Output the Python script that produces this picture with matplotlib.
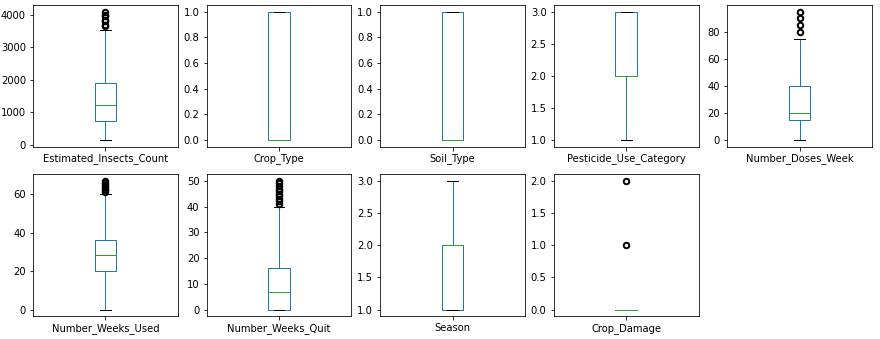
"""Box plots of the crop dataset columns, 2x5 grid"""

import matplotlib

matplotlib.use("Agg")
import matplotlib.pyplot as plt

# column names, in drawing order
columns = [
    "Estimated_Insects_Count",
    "Crop_Type",
    "Soil_Type",
    "Pesticide_Use_Category",
    "Number_Doses_Week",
    "Number_Weeks_Used",
    "Number_Weeks_Quit",
    "Season",
    "Crop_Damage",
]

# five-number summaries
whis_low = [150, 0, 0, 1, 0, 0, 0, 1, 0]
q1 = [730, 0, 0, 2, 15, 20, 0, 1, 0]
median = [1225, 0, 0, 2, 20, 28.5, 7, 2, 0]
q3 = [1900, 1, 1, 3, 40, 36, 16, 2, 0]
whis_high = [3520, 1, 1, 3, 75, 60, 40, 3, 0]

# outliers per column
fliers = [
    [3650, 3700, 3800, 3850, 3950, 4000, 4100],
    [],
    [],
    [],
    [80, 85, 90, 95],
    [61, 62, 63, 64, 65, 66, 67],
    [41, 42, 43, 44, 45, 46, 47, 48, 49, 50],
    [],
    [1, 2],
]


def draw_boxes(axes):
    for i, name in enumerate(columns):
        ax = axes[i]
        stats = [
            {
                "label": name,
                "whislo": whis_low[i],
                "q1": q1[i],
                "med": median[i],
                "q3": q3[i],
                "whishi": whis_high[i],
                "fliers": fliers[i],
            }
        ]
        ax.bxp(
            stats,
            widths=0.15,
            boxprops={"color": "#1f77b4"},
            whiskerprops={"color": "#1f77b4"},
            medianprops={"color": "#2ca02c"},
            capprops={"color": "k"},
            flierprops={"marker": "o", "markeredgecolor": "k",
                        "markerfacecolor": "none", "markersize": 5.5,
                        "markeredgewidth": 2.0},
        )
        ax.set_xlim(0.5, 1.5)
    axes[-1].axis("off")


if __name__ == "__main__":
    plt.rcParams["font.size"] = 10
    fig, axs = plt.subplots(2, 5, figsize=(880 / 72, 339 / 72), dpi=72)
    fig.subplots_adjust(left=0.0375, right=0.991, top=0.985, bottom=0.068,
                        wspace=0.197, hspace=0.197)
    draw_boxes(axs.flatten())
    fig.savefig("out.png", dpi=72)
